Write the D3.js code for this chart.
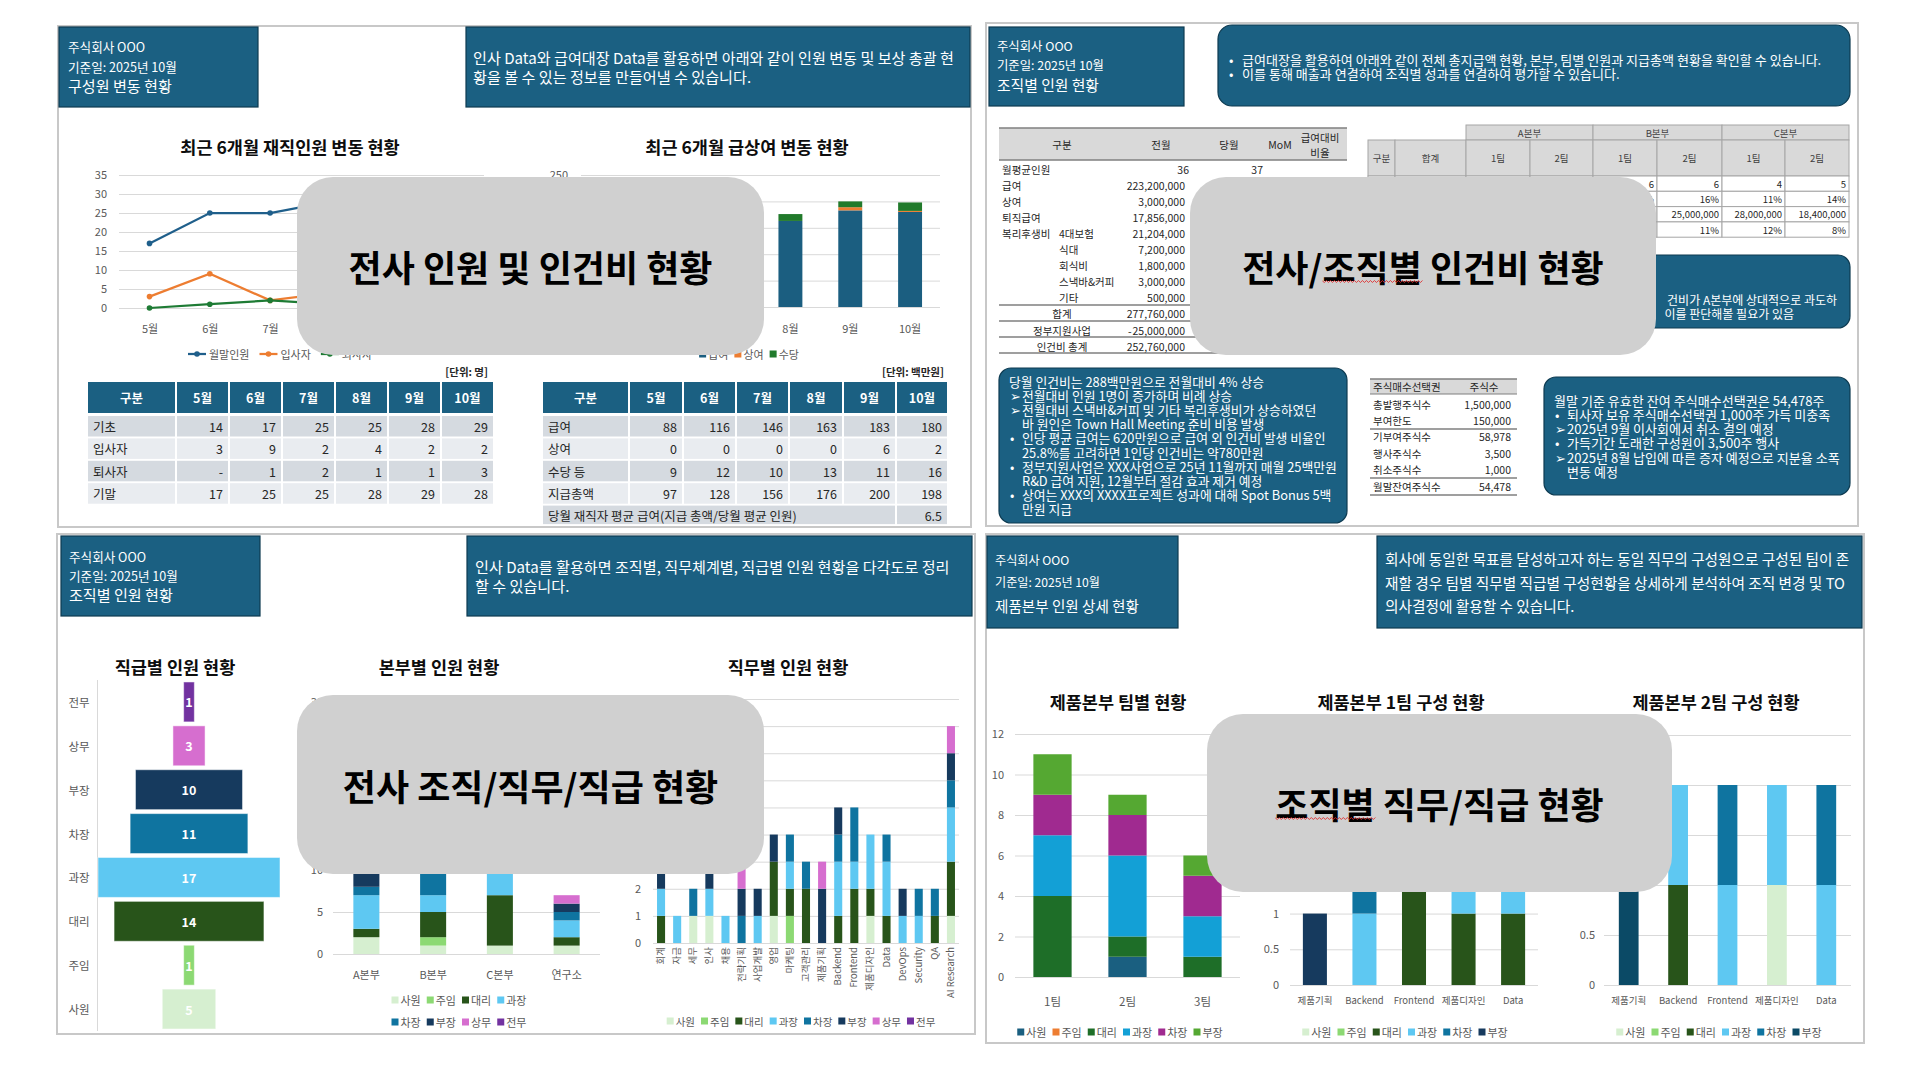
<!DOCTYPE html>
<html>
<head>
<meta charset="utf-8">
<script src="https://cdn.jsdelivr.net/npm/d3@7"></script>
<style>
body { margin: 0; background: #fff; }
svg text { font-family: "Noto Sans CJK KR", "Noto Sans", sans-serif; }
</style>
</head>
<body>
<div id="chart"></div>
<script>
// ---- data: headcount / payroll (slide 1)
var months = ["5월", "6월", "7월", "8월", "9월", "10월"];
var openHead = [14, 17, 25, 25, 28, 29];
var hires = [3, 9, 2, 4, 2, 2];
var leavers = [0, 1, 2, 1, 1, 3];
var headcount = [17, 25, 25, 28, 29, 28];
var salary = [88, 116, 146, 163, 183, 180];
var bonus = [0, 0, 0, 0, 6, 2];
var allowance = [9, 12, 10, 13, 11, 16];
var payTotal = [97, 128, 156, 176, 200, 198];
var avgPay = "6.5";
var headTicks = [0, 5, 10, 15, 20, 25, 30, 35];
var payTicks = [0, 50, 100, 150, 200, 250];

// ---- data: cost tables (slide 2)
var costLabels = ["월평균인원", "급여", "상여", "퇴직급여", "복리후생비", "", "", "", "", "합계", "정부지원사업", "인건비 총계"];
var costSub = ["", "", "", "", "4대보험", "식대", "회식비", "스낵바&커피", "기타", "", "", ""];
var costPrev = ["36", "223,200,000", "3,000,000", "17,856,000", "21,204,000", "7,200,000", "1,800,000", "3,000,000", "500,000", "277,760,000", "-25,000,000", "252,760,000"];
var costCurr = ["37", "", "", "", "", "", "", "", "", "", "", ""];
var orgGroups = ["A본부", "B본부", "C본부"];
var orgCols = ["구분", "합계", "1팀", "2팀", "1팀", "2팀", "1팀", "2팀"];
var orgRowLabels = ["인원", "비율", "지급총액", "비율"];
var orgHeads = ["37", "7", "9", "6", "6", "4", "5"];
var orgHeadShare = ["100%", "19%", "24%", "16%", "16%", "11%", "14%"];
var orgPay = ["223,200,000", "62,000,000", "58,800,000", "31,000,000", "25,000,000", "28,000,000", "18,400,000"];
var orgPayShare = ["100%", "28%", "26%", "14%", "11%", "12%", "8%"];
var stockLabels = ["총발행주식수", "부여한도", "기부여주식수", "행사주식수", "취소주식수", "월말잔여주식수"];
var stockValues = ["1,500,000", "150,000", "58,978", "3,500", "1,000", "54,478"];

// ---- data: grades / divisions / jobs (slide 3)
var grades = ["사원", "주임", "대리", "과장", "차장", "부장", "상무", "전무"];
var gradeCounts = [5, 1, 14, 17, 11, 10, 3, 1];
var gradeColors = ["#d6efd0", "#8cd973", "#28541a", "#5ec8f2", "#0f74a0", "#163a5e", "#d66ecf", "#7232a0"];
var divisions = ["A본부", "B본부", "C본부", "연구소"];
var divCounts = [
  [2, 1, 1, 1], [0, 1, 0, 0], [1, 3, 6, 1], [4, 2, 9, 2],
  [1, 3, 6, 1], [3, 3, 4, 1], [1, 0, 1, 1], [1, 0, 0, 0]
];
var divTicks = [0, 5, 10, 15, 20, 25, 30];
var jobs = ["회계", "자금", "세무", "인사", "채용", "전략기획", "사업개발", "영업", "마케팅", "고객관리", "제품기획", "Backend", "Frontend", "제품디자인", "Data", "DevOps", "Security", "QA", "AI Research"];
var jobCounts = [
  [0, 0, 1, 1, 0, 0, 0, 1, 0, 0, 0, 0, 0, 1, 0, 0, 0, 0, 1],
  [0, 0, 0, 0, 0, 0, 0, 0, 1, 0, 0, 0, 0, 0, 0, 0, 0, 0, 0],
  [1, 0, 0, 0, 0, 0, 0, 2, 1, 2, 0, 1, 2, 1, 1, 0, 0, 1, 2],
  [1, 1, 0, 1, 1, 0, 1, 0, 1, 0, 0, 2, 1, 2, 2, 1, 1, 0, 2],
  [0, 0, 1, 0, 0, 1, 0, 0, 1, 1, 0, 1, 2, 0, 1, 0, 1, 1, 1],
  [1, 0, 0, 1, 0, 1, 1, 1, 0, 0, 2, 1, 0, 0, 0, 1, 0, 0, 1],
  [0, 0, 0, 0, 0, 1, 0, 0, 0, 0, 1, 0, 0, 0, 0, 0, 0, 0, 1],
  [0, 0, 0, 1, 0, 0, 0, 0, 0, 0, 0, 0, 0, 0, 0, 0, 0, 0, 0]
];
var jobTicks = [0, 1, 2, 3, 4, 5, 6, 7, 8, 9];

// ---- data: product division (slide 4)
var teams = ["1팀", "2팀", "3팀"];
var grades6 = ["사원", "주임", "대리", "과장", "차장", "부장"];
var teamCounts = [[0, 1, 0], [0, 0, 0], [4, 1, 1], [3, 4, 2], [2, 2, 2], [2, 1, 1]];
var teamColors = ["#1a5f80", "#ed7d31", "#1e6e28", "#13a0d6", "#a02a90", "#55a832"];
var teamTicks = [0, 2, 4, 6, 8, 10, 12];
var prodJobs = ["제품기획", "Backend", "Frontend", "제품디자인", "Data"];
var team1Counts = [[0, 0, 0, 0, 0], [0, 0, 0, 0, 0], [0, 0, 2, 1, 1], [0, 1, 0, 1, 1], [0, 1, 1, 0, 0], [1, 1, 0, 0, 0]];
var team2Counts = [[0, 0, 0, 1, 0], [0, 0, 0, 0, 0], [0, 1, 0, 0, 0], [0, 1, 1, 1, 1], [0, 0, 1, 0, 1], [1, 0, 0, 0, 0]];
var team1Colors = ["#d6efd0", "#8cd973", "#28541a", "#5ec8f2", "#0f74a0", "#163a5e"];
var team2Colors = ["#d6efd0", "#8cd973", "#28541a", "#5ec8f2", "#0f74a0", "#0b4a66"];
var team1Ticks = [0, 0.5, 1, 1.5, 2, 2.5, 3, 3.5];
var team2Ticks = [0, 0.5, 1, 1.5, 2, 2.5];

// ---- texts
var introTL = ["인사 Data와 급여대장 Data를 활용하면 아래와 같이 인원 변동 및 보상 총괄 현", "황을 볼 수 있는 정보를 만들어낼 수 있습니다."];
var introTR = ["급여대장을 활용하여 아래와 같이 전체 총지급액 현황, 본부, 팀별 인원과 지급총액 현황을 확인할 수 있습니다.", "이를 통해 매출과 연결하여 조직별 성과를 연결하여 평가할 수 있습니다."];
var noteCost = [
  ["", "당월 인건비는 288백만원으로 전월대비 4% 상승"],
  ["➢", "전월대비 인원 1명이 증가하며 비례 상승"],
  ["➢", "전월대비 스낵바&커피 및 기타 복리후생비가 상승하였던"],
  [" ", "바 원인은 Town Hall Meeting 준비 비용 발생"],
  ["•", "인당 평균 급여는 620만원으로 급여 외 인건비 발생 비율인"],
  [" ", "25.8%를 고려하면 1인당 인건비는 약780만원"],
  ["•", "정부지원사업은 XXX사업으로 25년 11월까지 매월 25백만원"],
  [" ", "R&D 급여 지원, 12월부터 절감 효과 제거 예정"],
  ["•", "상여는 XXX의 XXXX프로젝트 성과에 대해 Spot Bonus 5백"],
  [" ", "만원 지급"]
];
var noteStock = [
  ["", "월말 기준 유효한 잔여 주식매수선택권은 54,478주"],
  ["•", "퇴사자 보유 주식매수선택권 1,000주 가득 미충족"],
  ["➢", "2025년 9월 이사회에서 취소 결의 예정"],
  ["•", "가득기간 도래한 구성원이 3,500주 행사"],
  ["➢", "2025년 8월 납입에 따른 증자 예정으로 지분율 소폭"],
  [" ", "변동 예정"]
];
var noteOrg = ["건비가 A본부에 상대적으로 과도하", "이를 판단해볼 필요가 있음"];
var introBL = ["인사 Data를 활용하면 조직별, 직무체계별, 직급별 인원 현황을 다각도로 정리", "할 수 있습니다."];
var introBR = ["회사에 동일한 목표를 달성하고자 하는 동일 직무의 구성원으로 구성된 팀이 존", "재할 경우 팀별 직무별 직급별 구성현황을 상세하게 분석하여 조직 변경 및 TO", "의사결정에 활용할 수 있습니다."];

var FONT = '"Noto Sans CJK KR", "Noto Sans", sans-serif';
var TEAL = "#1b6082";
var GRID = "#d9d9d9";
var AXT = "#595959";

var svg = d3.select("#chart").append("svg")
  .attr("width", 1920).attr("height", 1080)
  .style("display", "block");
svg.append("rect").attr("width", 1920).attr("height", 1080).attr("fill", "#fff");

function t(g, x, y, s, size, o) {
  o = o || {};
  return g.append("text").attr("x", x).attr("y", y)
    .attr("font-size", size)
    .attr("fill", o.fill || "#262626")
    .attr("font-weight", o.bold ? "bold" : null)
    .attr("text-anchor", o.anchor || "start")
    .attr("dominant-baseline", "central")
    .text(s);
}

function frame(g, x, y, w, h) {
  g.append("rect").attr("x", x).attr("y", y).attr("width", w).attr("height", h)
    .attr("fill", "#fff").attr("stroke", "#c8c8c8").attr("stroke-width", 2);
}

function box(g, x, y, w, h, r) {
  return g.append("rect").attr("x", x).attr("y", y).attr("width", w).attr("height", h)
    .attr("rx", r).attr("fill", TEAL).attr("stroke", "#0e3b51").attr("stroke-width", 1.2);
}

// draw lines, then scale the font so line fitIdx is fitW wide
function para(g, items, size, fitIdx, fitW) {
  var sel = items.map(function(it) { return t(g, it[0], it[1], it[2], size, {fill: "#fff"}); });
  if (fitIdx != null) {
    var w = sel[fitIdx].node().getComputedTextLength();
    var ns = size * fitW / w;
    sel.forEach(function(s) { s.attr("font-size", ns); });
  }
  return sel;
}

function headLeft(g, x, y, w, h, tx, ys, lines, w1, w2) {
  box(g, x, y, w, h, 0);
  para(g, [[tx, ys[0], lines[0]], [tx, ys[1], lines[1]]], 13, 1, w1);
  para(g, [[tx, ys[2], lines[2]]], 14, 0, w2);
}

function bulletPara(g, rows, x0, x1, y0, dy, size, fitRow, fitW) {
  var items = [];
  rows.forEach(function(r, i) {
    if (r[0] === "") items.push([x0, y0 + i * dy, r[1]]);
    else {
      if (r[0] !== " ") items.push([x0 + 1, y0 + i * dy, r[0]]);
      items.push([x1, y0 + i * dy, r[1]]);
    }
  });
  var target = null;
  items.forEach(function(it, k) { if (it[2] === rows[fitRow][1]) target = k; });
  para(g, items, size, target, fitW);
}

function yAxis(g, y, ticks, x0, x1, lx, size, fmt) {
  var a = g.append("g").attr("transform", "translate(" + x0 + ",0)")
    .call(d3.axisLeft(y).tickValues(ticks).tickSize(-(x1 - x0)).tickPadding(x0 - lx)
      .tickFormat(fmt || function(d) { return String(d); }));
  a.select(".domain").remove();
  a.selectAll("line").attr("stroke", GRID).attr("stroke-width", 1);
  a.selectAll("text").attr("font-size", size).attr("fill", AXT).attr("font-family", FONT);
  return a;
}

function xAxis(g, x, yPos, size) {
  var a = g.append("g").attr("transform", "translate(0," + yPos + ")")
    .call(d3.axisBottom(x).tickSize(0).tickPadding(0));
  a.select(".domain").remove();
  a.selectAll("text").attr("font-size", size).attr("fill", AXT).attr("font-family", FONT).attr("dy", "0.32em");
  return a;
}

function stacked(g, cats, keys, matrix, colors, x, y) {
  var rows = cats.map(function(c, i) {
    var o = {cat: c};
    keys.forEach(function(k, j) { o[k] = matrix[j][i]; });
    return o;
  });
  var st = d3.stack().keys(keys)(rows);
  g.append("g").selectAll("g").data(st).join("g")
    .attr("fill", function(d, i) { return colors[i]; })
    .selectAll("rect").data(function(d) { return d; }).join("rect")
    .attr("x", function(d) { return x(d.data.cat); })
    .attr("width", x.bandwidth())
    .attr("y", function(d) { return y(d[1]); })
    .attr("height", function(d) { return y(d[0]) - y(d[1]); });
}

function legend(g, labels, colors, cx, y, size) {
  var lg = g.append("g");
  var x = 0;
  labels.forEach(function(l, i) {
    lg.append("rect").attr("x", x).attr("y", y - 3.5).attr("width", 7).attr("height", 7).attr("fill", colors[i]);
    var tt = t(lg, x + 9, y, l, size, {fill: AXT});
    x += 9 + tt.node().getComputedTextLength() + 6;
  });
  lg.attr("transform", "translate(" + (cx - (x - 6) / 2) + ",0)");
}

function title(g, x, y, s) {
  t(g, x, y, s, 17.5, {bold: true, anchor: "middle", fill: "#0d0d0d"});
}

// =================== slide 1: 구성원 변동 현황
var g1 = svg.append("g");
frame(g1, 58, 26, 913, 501);
headLeft(g1, 59, 27, 199, 80, 68, [46, 66, 85], ["주식회사 OOO", "기준일: 2025년 10월", "구성원 변동 현황"], 109, 104);
box(g1, 466, 27, 504, 80, 0);
para(g1, [[473, 57, introTL[0]], [473, 76, introTL[1]]], 13.5, 0, 481);
title(g1, 290, 146, "최근 6개월 재직인원 변동 현황");
title(g1, 747, 146, "최근 6개월 급상여 변동 현황");

var lx = d3.scalePoint().domain(months).range([149.5, 451]);
var ly = d3.scaleLinear().domain([0, 35]).range([308, 175]);
yAxis(g1, ly, headTicks, 119, 484, 107, 11);
xAxis(g1, lx, 329, 11);
var lineSeries = [
  {name: "월말인원", vals: headcount, color: "#1f5f8b"},
  {name: "입사자", vals: hires, color: "#ed7d31"},
  {name: "퇴사자", vals: leavers, color: "#1e7b34"}
];
var lineGen = d3.line().x(function(d, i) { return lx(months[i]); }).y(function(d) { return ly(d); });
lineSeries.forEach(function(s) {
  g1.append("path").datum(s.vals).attr("d", lineGen).attr("fill", "none")
    .attr("stroke", s.color).attr("stroke-width", 2.25);
  g1.append("g").selectAll("circle").data(s.vals).join("circle")
    .attr("cx", function(d, i) { return lx(months[i]); }).attr("cy", function(d) { return ly(d); })
    .attr("r", 2.8).attr("fill", s.color);
});
var lgx = 188;
lineSeries.forEach(function(s) {
  g1.append("line").attr("x1", lgx).attr("x2", lgx + 18).attr("y1", 354).attr("y2", 354)
    .attr("stroke", s.color).attr("stroke-width", 2.25);
  g1.append("circle").attr("cx", lgx + 9).attr("cy", 354).attr("r", 2.8).attr("fill", s.color);
  var tt = t(g1, lgx + 21, 354, s.name, 11, {fill: AXT});
  lgx += 21 + tt.node().getComputedTextLength() + 10;
});

var bx = d3.scaleBand().domain(months).range([581, 940]).paddingInner(0.6).paddingOuter(0.3);
var by = d3.scaleLinear().domain([0, 250]).range([307, 175]);
yAxis(g1, by, payTicks, 581, 940, 568, 11);
xAxis(g1, bx, 329, 11);
stacked(g1, months, ["급여", "상여", "수당"], [salary, bonus, allowance], ["#1b5e80", "#ed7d31", "#217a2b"], bx, by);
legend(g1, ["급여", "상여", "수당"], ["#1b5e80", "#ed7d31", "#217a2b"], 749, 354, 11);

t(g1, 488, 371, "[단위: 명]", 10.5, {bold: true, anchor: "end"});
t(g1, 944, 371, "[단위: 백만원]", 10.5, {bold: true, anchor: "end"});

function monthTable(g, edges, rows, lastRow) {
  var heads = ["구분"].concat(months);
  heads.forEach(function(h, i) {
    g.append("rect").attr("x", edges[i] + 1).attr("y", 382).attr("width", edges[i + 1] - edges[i] - 2)
      .attr("height", 31).attr("fill", TEAL);
    t(g, (edges[i] + edges[i + 1]) / 2, 397.5, h, 12.5, {bold: true, fill: "#fff", anchor: "middle"});
  });
  rows.forEach(function(r, ri) {
    var y0 = 416 + ri * 22.4;
    var fill = ri % 2 === 0 ? "#d5dae0" : "#e9ecf0";
    for (var i = 0; i < 7; i++) {
      g.append("rect").attr("x", edges[i] + 1).attr("y", y0).attr("width", edges[i + 1] - edges[i] - 2)
        .attr("height", 20.5).attr("fill", fill);
    }
    t(g, edges[0] + 6, y0 + 10.5, r[0], 12.5);
    r[1].forEach(function(v, i) {
      t(g, edges[i + 2] - 6, y0 + 10.5, r[2] ? r[2](v) : String(v), 12.5, {anchor: "end"});
    });
  });
  if (lastRow) {
    var y0 = 416 + rows.length * 22.4;
    g.append("rect").attr("x", edges[0] + 1).attr("y", y0).attr("width", edges[6] - edges[0] - 2)
      .attr("height", 18.5).attr("fill", "#d5dae0");
    g.append("rect").attr("x", edges[6] + 1).attr("y", y0).attr("width", edges[7] - edges[6] - 2)
      .attr("height", 18.5).attr("fill", "#d5dae0");
    t(g, edges[0] + 6, y0 + 9.5, lastRow[0], 12.5);
    t(g, edges[7] - 6, y0 + 9.5, lastRow[1], 12.5, {anchor: "end"});
  }
}
monthTable(g1, [87, 176, 229, 282, 335, 388, 441, 494], [
  ["기초", openHead], ["입사자", hires], ["퇴사자", leavers, function(v) { return v === 0 ? "-" : String(v); }], ["기말", headcount]
]);
monthTable(g1, [542, 629, 683, 736, 789, 843, 896, 948], [
  ["급여", salary], ["상여", bonus], ["수당 등", allowance], ["지급총액", payTotal]
], ["당월 재직자 평균 급여(지급 총액/당월 평균 인원)", avgPay]);

// =================== slide 2: 조직별 인원 현황 (인건비)
var g2 = svg.append("g");
frame(g2, 986, 23, 872, 503);
headLeft(g2, 989, 27, 195, 79, 997, [46, 65, 84], ["주식회사 OOO", "기준일: 2025년 10월", "조직별 인원 현황"], 107, 102);
box(g2, 1218, 25, 632, 81, 14);
para(g2, [[1229, 59, "•"], [1242, 59, introTR[0]], [1229, 73, "•"], [1242, 73, introTR[1]]], 12, 1, 580);

// cost table
g2.append("rect").attr("x", 999).attr("y", 128).attr("width", 348).attr("height", 32).attr("fill", "#d9d9d9");
[128, 160, 305, 321, 337, 353].forEach(function(yy) {
  g2.append("line").attr("x1", 999).attr("x2", 1347).attr("y1", yy).attr("y2", yy)
    .attr("stroke", "#7f7f7f").attr("stroke-width", 1.5);
});
t(g2, 1062, 144, "구분", 10.5, {anchor: "middle"});
t(g2, 1161, 144, "전월", 10.5, {anchor: "middle"});
t(g2, 1229, 144, "당월", 10.5, {anchor: "middle"});
t(g2, 1280, 144, "MoM", 10.5, {anchor: "middle"});
t(g2, 1320, 137, "급여대비", 10.5, {anchor: "middle"});
t(g2, 1320, 152, "비율", 10.5, {anchor: "middle"});
costLabels.forEach(function(l, i) {
  var yy = 169 + i * 16.1;
  if (i >= 9) t(g2, 1062, yy, l, 10.5, {anchor: "middle"});
  else t(g2, 1002, yy, l, 10.5);
  if (costSub[i]) t(g2, 1059, yy, costSub[i], 10.5);
  var v = costPrev[i];
  if (v.charAt(0) === "-") {
    t(g2, 1128, yy, "-", 10.5);
    v = v.slice(1);
  }
  t(g2, i === 0 ? 1189 : 1185, yy, v, 10.5, {anchor: "end"});
  if (costCurr[i]) t(g2, 1263, yy, costCurr[i], 10.5, {anchor: "end"});
});

// org table
var oe = [1368, 1395, 1466, 1530, 1593, 1657, 1722, 1785, 1849];
function cell(g, x, y, w, h, fill) {
  g.append("rect").attr("x", x).attr("y", y).attr("width", w).attr("height", h)
    .attr("fill", fill).attr("stroke", "#a6a6a6").attr("stroke-width", 1);
}
orgGroups.forEach(function(gname, i) {
  cell(g2, oe[2 + i * 2], 125, oe[4 + i * 2] - oe[2 + i * 2], 15, "#d9d9d9");
  t(g2, (oe[2 + i * 2] + oe[4 + i * 2]) / 2, 132.5, gname, 9.5, {anchor: "middle", fill: "#404040"});
});
orgCols.forEach(function(c, i) {
  cell(g2, oe[i], 140, oe[i + 1] - oe[i], 36, "#d9d9d9");
  t(g2, (oe[i] + oe[i + 1]) / 2, 158, c, 9.5, {anchor: "middle", fill: "#404040"});
});
[orgHeads, orgHeadShare, orgPay, orgPayShare].forEach(function(row, ri) {
  var yy = 176 + ri * 15.3;
  cell(g2, oe[0], yy, oe[1] - oe[0], 15.3, "#fff");
  t(g2, oe[0] + 2, yy + 7.6, orgRowLabels[ri], 9, {fill: "#404040"});
  row.forEach(function(v, i) {
    cell(g2, oe[i + 1], yy, oe[i + 2] - oe[i + 1], 15.3, "#fff");
    t(g2, oe[i + 2] - 3, yy + 7.6, v, 9.5, {anchor: "end"});
  });
});

// notes
box(g2, 1368, 255, 482, 73, 12);
t(g2, 1837, 299, noteOrg[0], 12, {fill: "#fff", anchor: "end"});
t(g2, 1794, 313, noteOrg[1], 12, {fill: "#fff", anchor: "end"});
box(g2, 999, 368, 348, 155, 12);
bulletPara(g2, noteCost, 1009, 1022, 381.5, 14.1, 12, 6, 315);

// stock table
g2.append("rect").attr("x", 1370).attr("y", 379).attr("width", 147).attr("height", 15).attr("fill", "#d9d9d9");
[379, 394, 429, 478, 495].forEach(function(yy, i) {
  g2.append("line").attr("x1", 1370).attr("x2", 1517).attr("y1", yy).attr("y2", yy)
    .attr("stroke", "#7f7f7f").attr("stroke-width", i === 1 ? 1 : 1.5);
});
t(g2, 1373, 386.5, "주식매수선택권", 10.5);
t(g2, 1484, 386.5, "주식수", 10.5, {anchor: "middle"});
stockLabels.forEach(function(l, i) {
  var yy = 404 + i * 16.4;
  t(g2, 1373, yy, l, 10.5);
  t(g2, 1511, yy, stockValues[i], 10.5, {anchor: "end"});
});
box(g2, 1544, 377, 306, 118, 12);
bulletPara(g2, noteStock, 1554, 1567, 400, 14.3, 12, 4, 273);

// =================== slide 3: 조직별 인원 현황
var g3 = svg.append("g");
frame(g3, 57, 534, 918, 500);
headLeft(g3, 61, 536, 199, 80, 69, [556, 575, 594], ["주식회사 OOO", "기준일: 2025년 10월", "조직별 인원 현황"], 109, 104);
box(g3, 467, 536, 505, 80, 0);
para(g3, [[475, 566, introBL[0]], [475, 585, introBL[1]]], 13.5, 0, 475);
title(g3, 175, 666, "직급별 인원 현황");
title(g3, 439, 666, "본부별 인원 현황");
title(g3, 788, 666, "직무별 인원 현황");

// funnel by grade (top: 전무)
var fOrder = grades.slice().reverse();
var fy = d3.scaleBand().domain(fOrder).range([680, 1031]).paddingInner(0.09).paddingOuter(0.045);
var fw = d3.scaleLinear().domain([0, 17]).range([0, 182]);
g3.append("line").attr("x1", 97.5).attr("x2", 97.5).attr("y1", 680).attr("y2", 1031).attr("stroke", GRID);
fOrder.forEach(function(gr) {
  var i = grades.indexOf(gr);
  var w = fw(gradeCounts[i]);
  g3.append("rect").attr("x", 189 - w / 2).attr("y", fy(gr)).attr("width", w).attr("height", fy.bandwidth())
    .attr("fill", gradeColors[i]).attr("stroke", "rgba(255,255,255,0.5)").attr("stroke-width", 1);
  t(g3, 189, fy(gr) + fy.bandwidth() / 2, String(gradeCounts[i]), 12.5, {bold: true, fill: "#fff", anchor: "middle"});
  t(g3, 79, fy(gr) + fy.bandwidth() / 2, gr, 11.5, {fill: AXT, anchor: "middle"});
});

// by division
var dx = d3.scaleBand().domain(divisions).range([333, 600]).paddingInner(0.61).paddingOuter(0.305);
var dy = d3.scaleLinear().domain([0, 30]).range([954, 702]);
yAxis(g3, dy, divTicks, 333, 600, 323, 11);
xAxis(g3, dx, 975, 11);
stacked(g3, divisions, grades, divCounts, gradeColors, dx, dy);
legend(g3, grades.slice(0, 4), gradeColors.slice(0, 4), 459, 1000, 11);
legend(g3, grades.slice(4), gradeColors.slice(4), 459, 1022, 11);

// by job
var jx = d3.scaleBand().domain(jobs).range([653, 959]).paddingInner(0.5).paddingOuter(0.25);
var jy = d3.scaleLinear().domain([0, 9]).range([943, 699]);
yAxis(g3, jy, jobTicks, 653, 959, 641, 11);
var ja = g3.append("g").attr("transform", "translate(0,947)")
  .call(d3.axisBottom(jx).tickSize(0).tickPadding(0));
ja.select(".domain").remove();
ja.selectAll("text").attr("font-size", 9.5).attr("fill", AXT).attr("font-family", FONT)
  .attr("y", 0).attr("x", 0).attr("dy", "0.32em")
  .attr("text-anchor", "end").attr("transform", "rotate(-90)");
stacked(g3, jobs, grades, jobCounts, gradeColors, jx, jy);
legend(g3, grades, gradeColors, 801, 1021, 10.5);

// =================== slide 4: 제품본부 인원 상세 현황
var g4 = svg.append("g");
frame(g4, 986, 534, 878, 509);
headLeft(g4, 987, 536, 191, 92, 995, [559, 581, 605], ["주식회사 OOO", "기준일: 2025년 10월", "제품본부 인원 상세 현황"], 105, 144);
box(g4, 1377, 536, 485, 92, 0);
para(g4, [[1385, 558, introBR[0]], [1385, 582, introBR[1]], [1385, 605, introBR[2]]], 13.5, 0, 465);
title(g4, 1118, 701, "제품본부 팀별 현황");
title(g4, 1401, 701, "제품본부 1팀 구성 현황");
title(g4, 1716, 701, "제품본부 2팀 구성 현황");

var tx = d3.scaleBand().domain(teams).range([1015, 1240]).paddingInner(0.49).paddingOuter(0.245);
var ty = d3.scaleLinear().domain([0, 12]).range([977, 734]);
yAxis(g4, ty, teamTicks, 1015, 1240, 1004, 11);
xAxis(g4, tx, 1002, 11.5);
stacked(g4, teams, grades6, teamCounts, teamColors, tx, ty);
legend(g4, grades6, teamColors, 1120, 1032, 11);

var p1x = d3.scaleBand().domain(prodJobs).range([1290, 1538]).paddingInner(0.515).paddingOuter(0.26);
var p1y = d3.scaleLinear().domain([0, 3.5]).range([985, 735]);
yAxis(g4, p1y, team1Ticks, 1290, 1538, 1279, 11);
xAxis(g4, p1x, 1001, 9.5);
stacked(g4, prodJobs, grades6, team1Counts, team1Colors, p1x, p1y);
legend(g4, grades6, team1Colors, 1405, 1032, 11);

var p2x = d3.scaleBand().domain(prodJobs).range([1604, 1851]).paddingInner(0.6).paddingOuter(0.3);
var p2y = d3.scaleLinear().domain([0, 2.5]).range([985, 735]);
yAxis(g4, p2y, team2Ticks, 1604, 1851, 1595, 11);
xAxis(g4, p2x, 1001, 9.5);
stacked(g4, prodJobs, grades6, team2Counts, team2Colors, p2x, p2y);
legend(g4, grades6, team2Colors, 1719, 1032, 11);

// =================== gray cover boxes
var covers = [
  {x: 297, y: 177, w: 467, h: 178, s: "전사 인원 및 인건비 현황"},
  {x: 1190, y: 177, w: 466, h: 178, s: "전사/조직별 인건비 현황", sq: [3, 3]},
  {x: 297, y: 695, w: 467, h: 179, s: "전사 조직/직무/직급 현황"},
  {x: 1207, y: 714, w: 465, h: 178, s: "조직별 직무/직급 현황", sq: [0, 3]}
];
var RX = 36;

// a point is hidden if it lies inside a cover's rounded rectangle
function hidden(px, py) {
  return covers.some(function(c) {
    if (px < c.x || px > c.x + c.w || py < c.y || py > c.y + c.h) return false;
    var cx = Math.min(Math.max(px, c.x + RX), c.x + c.w - RX);
    var cy = Math.min(Math.max(py, c.y + RX), c.y + c.h - RX);
    return (px - cx) * (px - cx) + (py - cy) * (py - cy) <= RX * RX;
  });
}
// texts that end up fully under a cover are not drawn
svg.selectAll("text").each(function() {
  var r = this.getBoundingClientRect();
  if (hidden(r.left, r.top) && hidden(r.right, r.top) && hidden(r.left, r.bottom) && hidden(r.right, r.bottom)) {
    d3.select(this).remove();
  }
});

function squiggle(g, node, start, n, yy) {
  var p = node.getStartPositionOfChar(start);
  var w = node.getSubStringLength(start, n);
  var d = "M" + p.x + "," + yy;
  for (var xx = p.x, k = 0; xx < p.x + w; xx += 2, k++) {
    d += "L" + (xx + 2) + "," + (yy + (k % 2 === 0 ? 1.5 : -0.5));
  }
  g.append("path").attr("d", d).attr("fill", "none").attr("stroke", "#e02b2b").attr("stroke-width", 0.9);
}
var gc = svg.append("g");
covers.forEach(function(c) {
  gc.append("rect").attr("x", c.x).attr("y", c.y).attr("width", c.w).attr("height", c.h)
    .attr("rx", RX).attr("fill", "#d0d0d0");
  var cy = c.y + c.h / 2;
  var tt = t(gc, c.x + c.w / 2, cy, c.s, 36, {bold: true, anchor: "middle", fill: "#000"});
  if (c.sq) squiggle(gc, tt.node(), c.sq[0], c.sq[1], cy + 15);
});
</script>
</body>
</html>
